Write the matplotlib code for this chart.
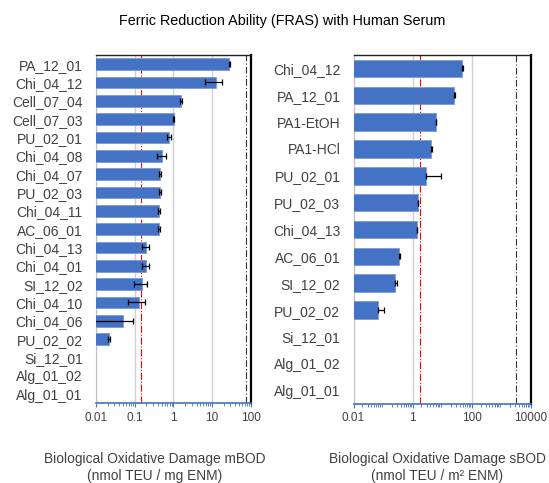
import numpy as np
import matplotlib
matplotlib.use("Agg")
import matplotlib.pyplot as plt
from matplotlib.ticker import LogLocator, FixedLocator, FixedFormatter

plt.rcParams['font.family'] = ['Liberation Sans', 'DejaVu Sans']

# mass based BOD (nmol TEU / mg ENM)
m_labels = ["PA_12_01", "Chi_04_12", "Cell_07_04", "Cell_07_03", "PU_02_01",
            "Chi_04_08", "Chi_04_07", "PU_02_03", "Chi_04_11", "AC_06_01",
            "Chi_04_13", "Chi_04_01", "SI_12_02", "Chi_04_10", "Chi_04_06",
            "PU_02_02", "Si_12_01", "Alg_01_02", "Alg_01_01"]
m_values = [28, 12.3, 1.58, 1.02, 0.76, 0.50, 0.46, 0.46, 0.42, 0.42,
            0.195, 0.195, 0.154, 0.126, 0.051, 0.022, 0, 0, 0]
m_errors = [1.0, 5.7, 0.05, 0.04, 0.09, 0.13, 0.03, 0.03, 0.03, 0.03,
            0.04, 0.04, 0.06, 0.06, 0.042, 0.001, 0, 0, 0]
m_low, m_high = 0.148, 75

# surface based BOD (nmol TEU / m2 ENM)
s_labels = ["Chi_04_12", "PA_12_01", "PA1-EtOH", "PA1-HCl", "PU_02_01",
            "PU_02_03", "Chi_04_13", "AC_06_01", "SI_12_02", "PU_02_02",
            "Si_12_01", "Alg_01_02", "Alg_01_01"]
s_values = [47, 26, 6.0, 4.2, 2.8, 1.48, 1.4, 0.35, 0.245, 0.065, 0, 0, 0]
s_errors = [3, 1.5, 0.3, 0.2, 6.1, 0.05, 0.05, 0.02, 0.045, 0.045, 0, 0, 0]
s_low, s_high = 1.78, 3100

bar_color = "#4472C4"
axis_blue = "#4472C4"
text_gray = "#404040"

fig = plt.figure(figsize=(5.49, 4.83), dpi=100)
W, H = 549, 483


def px_axes(x0, x1, y0, y1):
    return fig.add_axes([x0 / W, 1 - y1 / H, (x1 - x0) / W, (y1 - y0) / H])


def draw_panel(ax, labels, values, errors, xlim, majors, low, high, bar_h, both_sides):
    n = len(labels)
    y = np.arange(n)
    vals = np.array(values, dtype=float)
    errs = np.array(errors, dtype=float)
    shown = vals > 0
    ax.barh(y[shown], vals[shown], left=1e-9, height=bar_h,
            color=bar_color, edgecolor="#7b9ad6", linewidth=0.6, zorder=3)
    # minus bar is dropped where it would reach zero on the log axis
    if both_sides:
        lower = np.where(vals - errs > 0, errs, 0)
    else:
        lower = np.zeros_like(errs)
    ax.errorbar(vals[shown], y[shown], xerr=[lower[shown], errs[shown]], fmt="none",
                ecolor="black", elinewidth=0.9, capsize=2.5, capthick=0.9, zorder=4)
    ax.set_xscale("log")
    ax.set_xlim(*xlim)
    ax.set_ylim(n - 0.5, -0.5)
    ax.set_yticks(y)
    ax.set_yticklabels(labels, fontsize=10, color=text_gray)
    ax.tick_params(axis="y", length=0, pad=9.5)
    ax.xaxis.set_major_locator(FixedLocator(majors))
    ax.xaxis.set_major_formatter(FixedFormatter([("%g" % m) for m in majors]))
    ax.xaxis.set_minor_locator(LogLocator(base=10, subs=np.arange(2, 10), numticks=20))
    ax.tick_params(axis="x", which="major", labelsize=8.5, labelcolor=text_gray,
                   color=axis_blue, length=3, width=0.8, pad=3)
    ax.tick_params(axis="x", which="minor", color=axis_blue, length=2, width=0.6)
    ax.grid(True, axis="x", which="major", color="#d0d0d0", linewidth=1.0, zorder=0)
    ax.axvline(low, color="red", linestyle="-.", linewidth=0.8, zorder=2)
    ax.axvline(high, color="#333333", linestyle=(0, (6, 2, 1, 2)), linewidth=0.8, zorder=2)
    ax.spines["bottom"].set_color(axis_blue)
    ax.spines["bottom"].set_linewidth(1.2)
    ax.spines["left"].set_color("#bfbfbf")
    ax.spines["top"].set_color("#222222")
    ax.spines["top"].set_linewidth(1.0)
    ax.spines["right"].set_color("black")
    ax.spines["right"].set_linewidth(1.6)
    ax.set_axisbelow(True)


ax1 = px_axes(96, 250.7, 55, 403.3)
draw_panel(ax1, m_labels, m_values, m_errors, (0.01, 100),
           [0.01, 0.1, 1, 10, 100], m_low, m_high, 0.63, True)

ax2 = px_axes(353.5, 530.7, 55, 404)
draw_panel(ax2, s_labels, s_values, s_errors, (0.01, 10000),
           [0.01, 1, 100, 10000], s_low, s_high, 0.65, False)

fig.text(282 / W, 1 - 21 / H, "Ferric Reduction Ability (FRAS) with Human Serum",
         ha="center", va="center", fontsize=10.4, color="black")
fig.text(155 / W, 1 - 467.5 / H, "Biological Oxidative Damage mBOD\n(nmol TEU / mg ENM)",
         ha="center", va="center", fontsize=9.9, color=text_gray, linespacing=1.2)
fig.text(437 / W, 1 - 467.5 / H, "Biological Oxidative Damage sBOD\n(nmol TEU / m² ENM)",
         ha="center", va="center", fontsize=9.9, color=text_gray, linespacing=1.2)

fig.savefig("out.png", dpi=100)
